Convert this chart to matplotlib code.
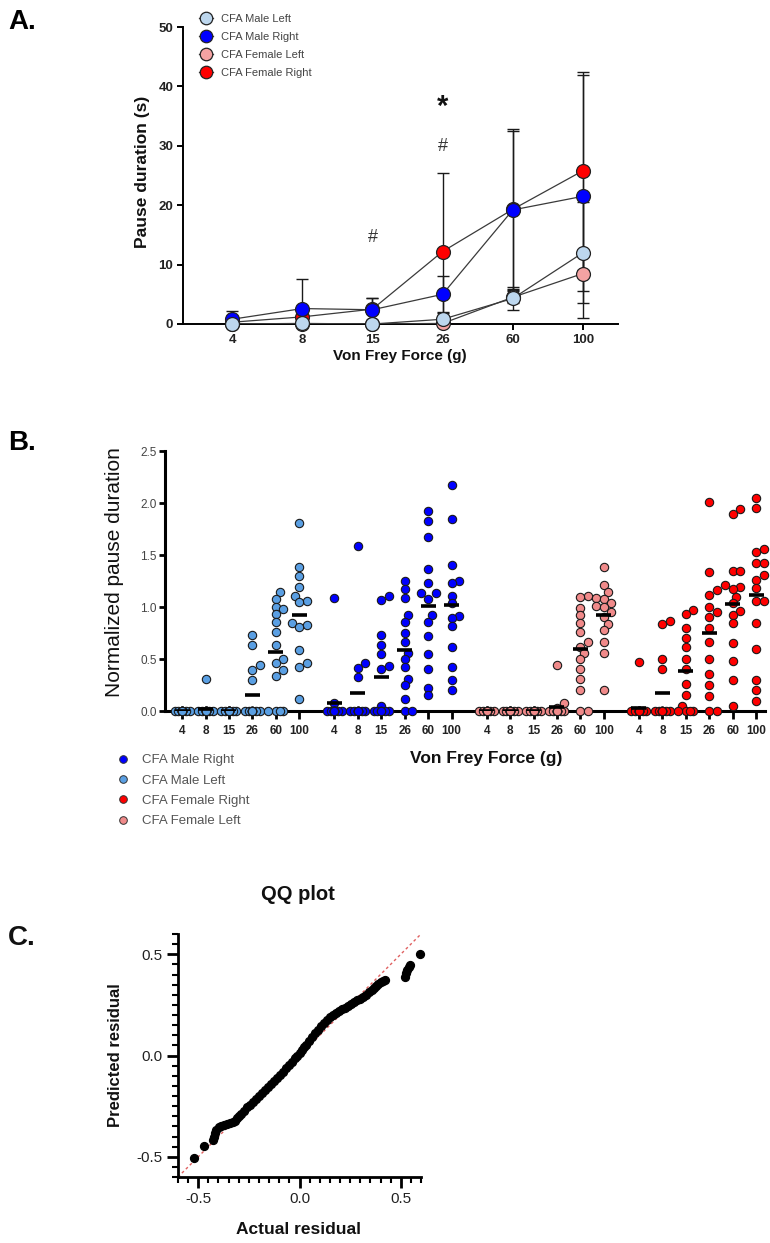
import numpy as np
import matplotlib
matplotlib.use('Agg')
import matplotlib.pyplot as plt
from matplotlib.lines import Line2D
from matplotlib.ticker import MultipleLocator

plt.rcParams['font.family'] = ['Liberation Sans', 'DejaVu Sans']
plt.rcParams['axes.unicode_minus'] = False

W, H = 770, 1243

# ---------------- panel A: means and SD ----------------
forces = ['4', '8', '15', '26', '60', '100']
a_labels = ['CFA Male Left', 'CFA Male Right', 'CFA Female Left', 'CFA Female Right']
a_colors = ['#BDD7EE', '#0000FF', '#F4A3A3', '#FF0000']

male_left_mean = [0.0, 0.1, 0.0, 0.8, 4.3, 12.0]
male_left_sd = [0.3, 0.3, 0.2, 1.2, 2.0, 8.5]
male_right_mean = [0.8, 2.6, 2.4, 5.0, 19.2, 21.5]
male_right_sd = [1.4, 4.9, 2.0, 3.1, 13.3, 20.5]
female_left_mean = [0.0, 0.0, 0.0, 0.1, 4.5, 8.5]
female_left_sd = [0.0, 0.0, 0.0, 0.4, 1.0, 3.0]
female_right_mean = [0.3, 1.2, 2.5, 12.2, 19.3, 25.8]
female_right_sd = [0.6, 1.5, 1.8, 13.3, 13.5, 16.7]

# significance marks: (force index, y, text)
sig_marks = [(2, 14.5, '#'), (3, 29.8, '#'), (3, 36.5, '*')]

# ---------------- panel B: normalized pause duration per animal ----------------
b_labels = ['CFA Male Right', 'CFA Male Left', 'CFA Female Right', 'CFA Female Left']
b_colors = {'CFA Male Right': '#0000FF', 'CFA Male Left': '#5A9FE3',
            'CFA Female Right': '#FF0000', 'CFA Female Left': '#F08A8A'}
b_group_order = ['CFA Male Left', 'CFA Male Right', 'CFA Female Left', 'CFA Female Right']

male_left_b = [
    [0, 0, 0, 0, 0, 0, 0, 0, 0, 0, 0, 0, 0, 0, 0, 0],
    [0.31, 0, 0, 0, 0, 0, 0, 0, 0, 0, 0, 0, 0, 0, 0, 0],
    [0, 0, 0, 0, 0, 0, 0, 0, 0, 0, 0, 0, 0, 0, 0, 0],
    [0.73, 0.63, 0.44, 0.39, 0.30, 0, 0, 0, 0, 0, 0, 0, 0, 0, 0, 0],
    [1.14, 1.08, 1.00, 0.98, 0.93, 0.86, 0.76, 0.63, 0.50, 0.46, 0.39, 0.34, 0, 0, 0, 0],
    [1.81, 1.38, 1.30, 1.19, 1.11, 1.06, 1.05, 0.85, 0.83, 0.81, 0.59, 0.46, 0.42, 0.12],
]
male_right_b = [
    [1.09, 0.08, 0, 0, 0, 0, 0, 0, 0, 0, 0, 0, 0, 0, 0, 0],
    [1.59, 0.46, 0.41, 0.33, 0, 0, 0, 0, 0, 0, 0, 0, 0, 0, 0, 0],
    [1.11, 1.07, 0.73, 0.63, 0.55, 0.43, 0.40, 0.05, 0, 0, 0, 0, 0, 0, 0],
    [1.25, 1.17, 1.09, 0.92, 0.86, 0.75, 0.66, 0.56, 0.50, 0.42, 0.31, 0.25, 0.12, 0, 0],
    [1.92, 1.83, 1.67, 1.37, 1.23, 1.13, 1.13, 1.08, 0.92, 0.86, 0.72, 0.55, 0.40, 0.22, 0.15],
    [2.17, 1.85, 1.40, 1.25, 1.23, 1.11, 1.04, 0.91, 0.89, 0.82, 0.62, 0.42, 0.30, 0.20],
]
female_left_b = [
    [0, 0, 0, 0, 0, 0, 0, 0, 0, 0, 0, 0, 0, 0, 0],
    [0, 0, 0, 0, 0, 0, 0, 0, 0, 0, 0, 0, 0, 0, 0],
    [0, 0, 0, 0, 0, 0, 0, 0, 0, 0, 0, 0, 0, 0, 0],
    [0.44, 0.08, 0.03, 0, 0, 0, 0, 0, 0, 0, 0, 0, 0, 0, 0],
    [1.11, 1.10, 0.99, 0.92, 0.85, 0.76, 0.66, 0.62, 0.56, 0.50, 0.40, 0.31, 0.20, 0, 0],
    [1.38, 1.21, 1.14, 1.09, 1.08, 1.04, 1.01, 1.00, 0.95, 0.90, 0.84, 0.78, 0.66, 0.56, 0.20],
]
female_right_b = [
    [0.47, 0, 0, 0, 0, 0, 0, 0, 0, 0, 0, 0, 0, 0, 0],
    [0.87, 0.84, 0.50, 0.40, 0, 0, 0, 0, 0, 0, 0, 0, 0, 0, 0],
    [0.97, 0.93, 0.80, 0.70, 0.62, 0.50, 0.40, 0.26, 0.15, 0.05, 0, 0, 0, 0],
    [2.01, 1.34, 1.16, 1.12, 1.00, 0.95, 0.90, 0.80, 0.66, 0.50, 0.36, 0.25, 0.14, 0, 0],
    [1.94, 1.89, 1.35, 1.35, 1.21, 1.19, 1.17, 1.10, 1.04, 0.96, 0.92, 0.85, 0.65, 0.48, 0.30, 0.05],
    [2.05, 1.95, 1.56, 1.53, 1.42, 1.42, 1.31, 1.26, 1.18, 1.06, 1.06, 0.85, 0.60, 0.30, 0.20, 0.10],
]
b_data = {'CFA Male Left': male_left_b, 'CFA Male Right': male_right_b,
          'CFA Female Left': female_left_b, 'CFA Female Right': female_right_b}

# ---------------- panel C: QQ plot ----------------
qq_actual = [-0.52, -0.47, -0.425, -0.42, -0.415, -0.41, -0.40, -0.39, -0.375, -0.36,
             -0.345, -0.33, -0.32, -0.31, -0.30, -0.29, -0.275, -0.26, -0.245, -0.23,
             -0.215, -0.20, -0.185, -0.17, -0.155, -0.14, -0.125, -0.11, -0.095, -0.08,
             -0.065, -0.05, -0.035, -0.02, -0.01, 0.0, 0.01, 0.02, 0.03, 0.045,
             0.06, 0.075, 0.09, 0.105, 0.12, 0.135, 0.15, 0.165, 0.18, 0.195,
             0.21, 0.225, 0.24, 0.255, 0.27, 0.285, 0.30, 0.315, 0.33, 0.345,
             0.36, 0.37, 0.38, 0.39, 0.40, 0.41, 0.42, 0.52, 0.525, 0.53,
             0.54, 0.545, 0.595]
qq_predicted = [-0.505, -0.445, -0.415, -0.40, -0.385, -0.37, -0.355, -0.348, -0.342, -0.338,
                -0.333, -0.330, -0.322, -0.310, -0.300, -0.288, -0.272, -0.255, -0.243, -0.230,
                -0.216, -0.200, -0.186, -0.170, -0.155, -0.140, -0.126, -0.110, -0.095, -0.080,
                -0.063, -0.047, -0.030, -0.012, 0.000, 0.012, 0.026, 0.040, 0.053, 0.072,
                0.092, 0.112, 0.128, 0.145, 0.160, 0.174, 0.188, 0.200, 0.210, 0.219,
                0.228, 0.237, 0.246, 0.255, 0.264, 0.272, 0.281, 0.290, 0.300, 0.312,
                0.325, 0.335, 0.345, 0.355, 0.363, 0.370, 0.375, 0.390, 0.405, 0.420,
                0.435, 0.445, 0.500]


def box(l, t, r, b):
    return [l / W, 1 - b / H, (r - l) / W, (b - t) / H]


def fx(x):
    return x / W


def fy(y):
    return 1 - y / H


def swarm(vals, xscale=23.4, yscale=104.0, mind=6.5, step=0.16, maxoff=0.34):
    # simple deterministic dot spreading, like a column scatter plot
    vals = np.asarray(vals, dtype=float)
    cands = [0.0]
    k = 1
    while k * step <= maxoff + 1e-9:
        cands += [k * step, -k * step]
        k += 1
    offs = np.zeros(len(vals))
    placed = []
    for idx in np.argsort(vals, kind='stable'):
        v = vals[idx]
        best, bestd = 0.0, -1.0
        for c in cands:
            if placed:
                d = min(np.hypot((c - pc) * xscale, (v - pv) * yscale) for pc, pv in placed)
            else:
                d = 1e9
            if d >= mind:
                best = c
                break
            if d > bestd:
                best, bestd = c, d
        offs[idx] = best
        placed.append((best, v))
    return offs


fig = plt.figure(figsize=(W / 100, H / 100), dpi=100)

# ================= Panel A =================
axA = fig.add_axes(box(183, 27, 618, 324))
xa = np.arange(len(forces))
a_series = {
    'CFA Male Left': (male_left_mean, male_left_sd),
    'CFA Male Right': (male_right_mean, male_right_sd),
    'CFA Female Left': (female_left_mean, female_left_sd),
    'CFA Female Right': (female_right_mean, female_right_sd),
}
a_z = {'CFA Female Right': 3, 'CFA Female Left': 4, 'CFA Male Right': 5, 'CFA Male Left': 6}
for lab, col in zip(a_labels, a_colors):
    m, sd = a_series[lab]
    axA.errorbar(xa, m, yerr=sd, fmt='none', ecolor='#1a1a1a', elinewidth=1.0,
                 capsize=4.5, capthick=1.0, zorder=2)
    axA.plot(xa, m, color='#3a3a3a', lw=0.9, zorder=a_z[lab] - 0.5)
    axA.plot(xa, m, 'o', ms=10, mfc=col, mec='#222222', mew=0.9,
             zorder=a_z[lab] + 5, clip_on=False)

for i, y, t in sig_marks:
    if t == '*':
        axA.text(i, y, t, ha='center', va='center', fontsize=21, fontweight='bold',
                 color='#111111')
    else:
        axA.text(i, y, t, ha='center', va='center', fontsize=13, color='#333333')

axA.set_xlim(-0.7, 5.5)
axA.set_ylim(0, 50)
axA.set_yticks([0, 10, 20, 30, 40, 50])
axA.set_xticks(xa)
for s in ['top', 'right']:
    axA.spines[s].set_visible(False)
for s in ['left', 'bottom']:
    axA.spines[s].set_linewidth(1.4)
axA.tick_params(axis='both', width=1.4, length=4, labelsize=9.5, pad=3, labelcolor='#222222')
axA.set_xticklabels(forces, fontweight='bold')
axA.set_yticklabels(['0', '10', '20', '30', '40', '50'], fontweight='bold')

fig.text(fx(143), fy(172), 'Pause duration (s)', rotation=90, ha='center', va='center',
         fontsize=12.5, fontweight='bold', color='#111111')
fig.text(fx(400), fy(356), 'Von Frey Force (g)', ha='center', va='center',
         fontsize=11, fontweight='bold', color='#111111')

a_handles = [Line2D([], [], color='#3a3a3a', lw=0.9, marker='o', ms=9, mfc=c, mec='#222222',
                    mew=0.9) for c in a_colors]
fig.legend(a_handles, a_labels, loc='upper left', bbox_to_anchor=(fx(199), fy(14)),
           frameon=False, fontsize=8, labelcolor='#444444', handlelength=1.3,
           handletextpad=0.7, labelspacing=0.72, borderpad=0, borderaxespad=0)

fig.text(fx(8), fy(22), 'A.', ha='left', va='center', fontsize=20, fontweight='bold')

# ================= Panel B =================
axB = fig.add_axes(box(165, 451, 765, 711))
tick_pos = []
tick_lab = []
for g, name in enumerate(b_group_order):
    for i, vals in enumerate(b_data[name]):
        pos = g * 6.5 + i
        tick_pos.append(pos)
        tick_lab.append(forces[i])
        offs = swarm(vals)
        axB.plot(pos + offs, vals, 'o', ms=6, mfc=b_colors[name], mec='#1a1a1a', mew=0.8,
                 ls='none', zorder=3, clip_on=False)
        axB.hlines(np.mean(vals), pos - 0.32, pos + 0.32, color='black', lw=2.6, zorder=5)

axB.set_xlim(-0.73, 24.88)
axB.set_ylim(0, 2.5)
axB.set_yticks([0, 0.5, 1.0, 1.5, 2.0, 2.5])
axB.set_yticklabels(['0.0', '0.5', '1.0', '1.5', '2.0', '2.5'])
axB.set_xticks(tick_pos)
axB.set_xticklabels(tick_lab, fontweight='bold')
for s in ['top', 'right']:
    axB.spines[s].set_visible(False)
for s in ['left', 'bottom']:
    axB.spines[s].set_linewidth(2.2)
axB.tick_params(axis='y', width=2.0, length=4, labelsize=8.5, labelcolor='#444444', pad=2)
axB.tick_params(axis='x', width=2.0, length=6, labelsize=8.5, pad=4, labelcolor='#222222')

fig.text(fx(115), fy(572), 'Normalized pause duration', rotation=90, ha='center', va='center',
         fontsize=15, color='#111111')
fig.text(fx(486), fy(759), 'Von Frey Force (g)', ha='center', va='center',
         fontsize=12.5, fontweight='bold', color='#111111')

b_handles = [Line2D([], [], marker='o', ls='none', ms=5.5, mfc=b_colors[n], mec='#333333',
                    mew=0.7) for n in b_labels]
fig.legend(b_handles, b_labels, loc='upper left', bbox_to_anchor=(fx(116), fy(754)),
           frameon=False, fontsize=9.5, labelcolor='#555555', handlelength=1.0,
           handletextpad=1.0, labelspacing=0.62, borderpad=0, borderaxespad=0)

fig.text(fx(8), fy(443), 'B.', ha='left', va='center', fontsize=20, fontweight='bold')

# ================= Panel C =================
axC = fig.add_axes(box(178, 934, 421, 1177))
axC.plot([-0.6, 0.6], [-0.6, 0.6], color='#E06060', lw=1.0, ls=(0, (2, 2)), zorder=2)
axC.scatter(qq_actual, qq_predicted, s=32, color='black', zorder=3, clip_on=False)
axC.set_xlim(-0.6, 0.6)
axC.set_ylim(-0.6, 0.6)
axC.set_xticks([-0.5, 0.0, 0.5])
axC.set_yticks([-0.5, 0.0, 0.5])
axC.set_xticklabels(['-0.5', '0.0', '0.5'])
axC.set_yticklabels(['-0.5', '0.0', '0.5'])
axC.xaxis.set_minor_locator(MultipleLocator(0.05))
axC.yaxis.set_minor_locator(MultipleLocator(0.05))
for s in ['top', 'right']:
    axC.spines[s].set_visible(False)
for s in ['left', 'bottom']:
    axC.spines[s].set_linewidth(2.0)
axC.tick_params(which='major', width=2.0, length=8, labelsize=11, labelcolor='#222222', pad=3)
axC.tick_params(which='minor', width=1.5, length=4)

fig.text(fx(298), fy(895), 'QQ plot', ha='center', va='center', fontsize=14.5,
         fontweight='bold', color='#111111')
fig.text(fx(116), fy(1055), 'Predicted residual', rotation=90, ha='center', va='center',
         fontsize=12, fontweight='bold', color='#111111')
fig.text(fx(299), fy(1230), 'Actual residual', ha='center', va='center',
         fontsize=12.5, fontweight='bold', color='#111111')

fig.text(fx(8), fy(938), 'C.', ha='left', va='center', fontsize=20, fontweight='bold',
         color='#111111')

fig.savefig('out.png', dpi=100)
